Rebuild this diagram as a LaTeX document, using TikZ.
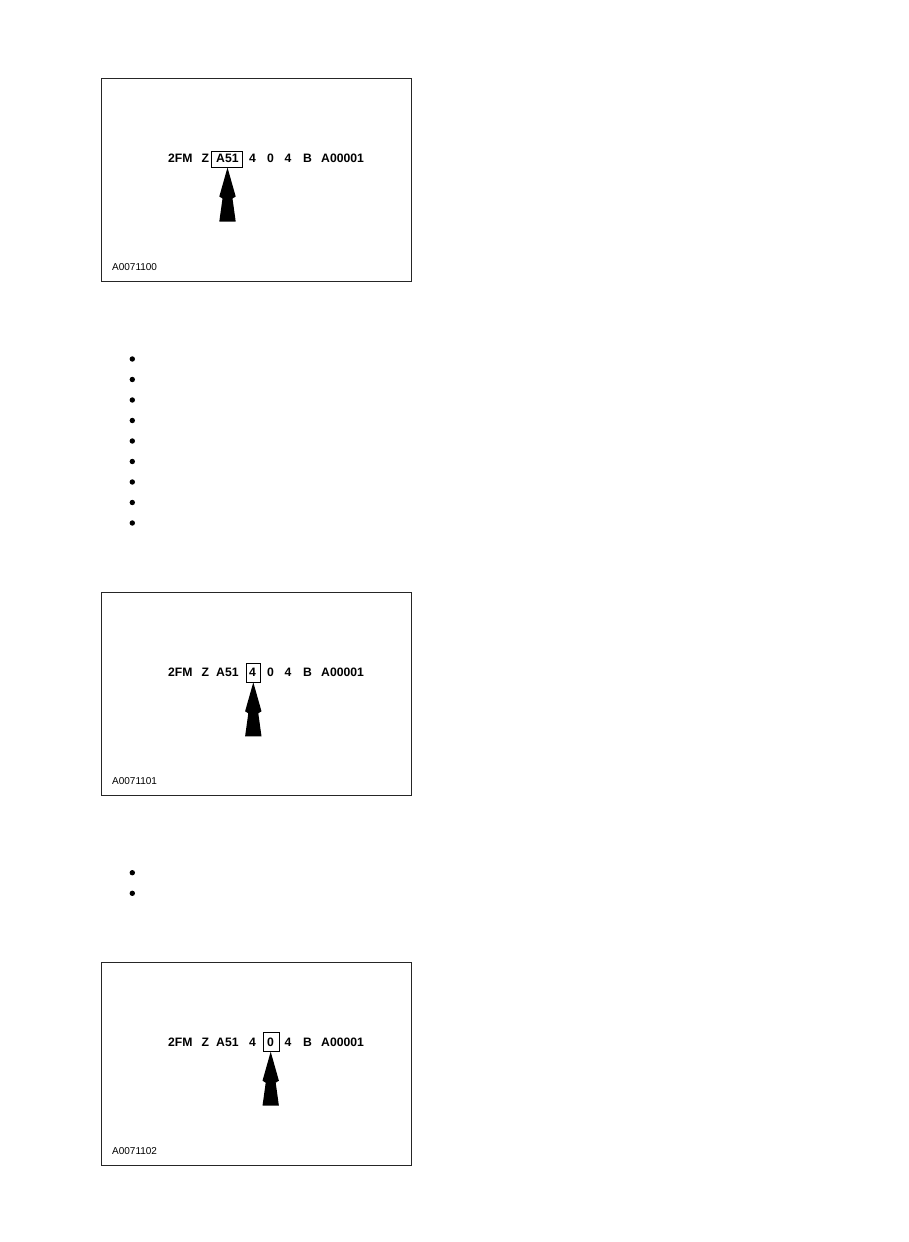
\documentclass[tikz,border=0pt]{standalone}
\usepackage{fontspec}
\setmainfont{Liberation Sans}
\tikzset{
  frame/.style={draw=black!85, line width=1pt, rectangle, inner sep=0pt, anchor=north west, minimum width=310pt, minimum height=203pt},
  tok/.style={anchor=base west, inner sep=0pt, font=\fontsize{12.2}{14}\selectfont\bfseries},
  hlbox/.style={draw=black, line width=1pt, rectangle, inner sep=0pt, anchor=north west},
  lbl/.style={anchor=base west, inner sep=0pt, font=\fontsize{10}{12}\selectfont},
  bul/.style={circle, fill=black, inner sep=0pt, minimum size=5.4pt},
  arrowfill/.style={fill=black}
}
\newcommand\vinline[2]{%
  \node[tok] (#1-t1) at (168,#2) {2FM};
  \node[tok] (#1-t2) at (201.5,#2) {Z};
  \node[tok] (#1-t3) at (216,#2) {A51};
  \node[tok] (#1-t4) at (249,#2) {4};
  \node[tok] (#1-t5) at (267,#2) {0};
  \node[tok] (#1-t6) at (284.5,#2) {4};
  \node[tok] (#1-t7) at (303,#2) {B};
  \node[tok] (#1-t8) at (321,#2) {A00001};
}
\newcommand\vinarrow[1]{%
  \fill[arrowfill] (#1) -- ++(8.2,29) -- ++(-3.2,2) -- ++(3.2,23) -- ++(-16.4,0) -- ++(3.2,-23) -- ++(-3.2,-2) -- cycle;
}
\begin{document}
\begin{tikzpicture}[x=1pt,y=-1pt]
\useasboundingbox[fill=white] (0,0) rectangle (909,1242);

% Panel 1
\node[frame] (p1) at (101,78) {};
\vinline{p1}{162}
\node[hlbox, minimum width=31pt, minimum height=16pt] (p1-box) at (211,150.5) {};
\coordinate (p1-tip) at (227.5,167.5);
\vinarrow{p1-tip}
\node[lbl] (p1-lbl) at (112,270.8) {A0071100};

% Bullets group 1
\foreach \i in {0,...,8} {
  \node[bul] (b1-\i) at (132.3,{359+20.5*\i}) {};
}

% Panel 2
\node[frame] (p2) at (101,592) {};
\vinline{p2}{676.5}
\node[hlbox, minimum width=14pt, minimum height=18.5pt] (p2-box) at (246,663) {};
\coordinate (p2-tip) at (253.3,682.3);
\vinarrow{p2-tip}
\node[lbl] (p2-lbl) at (112,784) {A0071101};

% Bullets group 2
\node[bul] (b2-0) at (132.3,872.7) {};
\node[bul] (b2-1) at (132.3,893.3) {};

% Panel 3
\node[frame] (p3) at (101,962) {};
\vinline{p3}{1046}
\node[hlbox, minimum width=16pt, minimum height=19pt] (p3-box) at (263,1032) {};
\coordinate (p3-tip) at (270.7,1051.7);
\vinarrow{p3-tip}
\node[lbl] (p3-lbl) at (112,1154) {A0071102};
\end{tikzpicture}
\end{document}
